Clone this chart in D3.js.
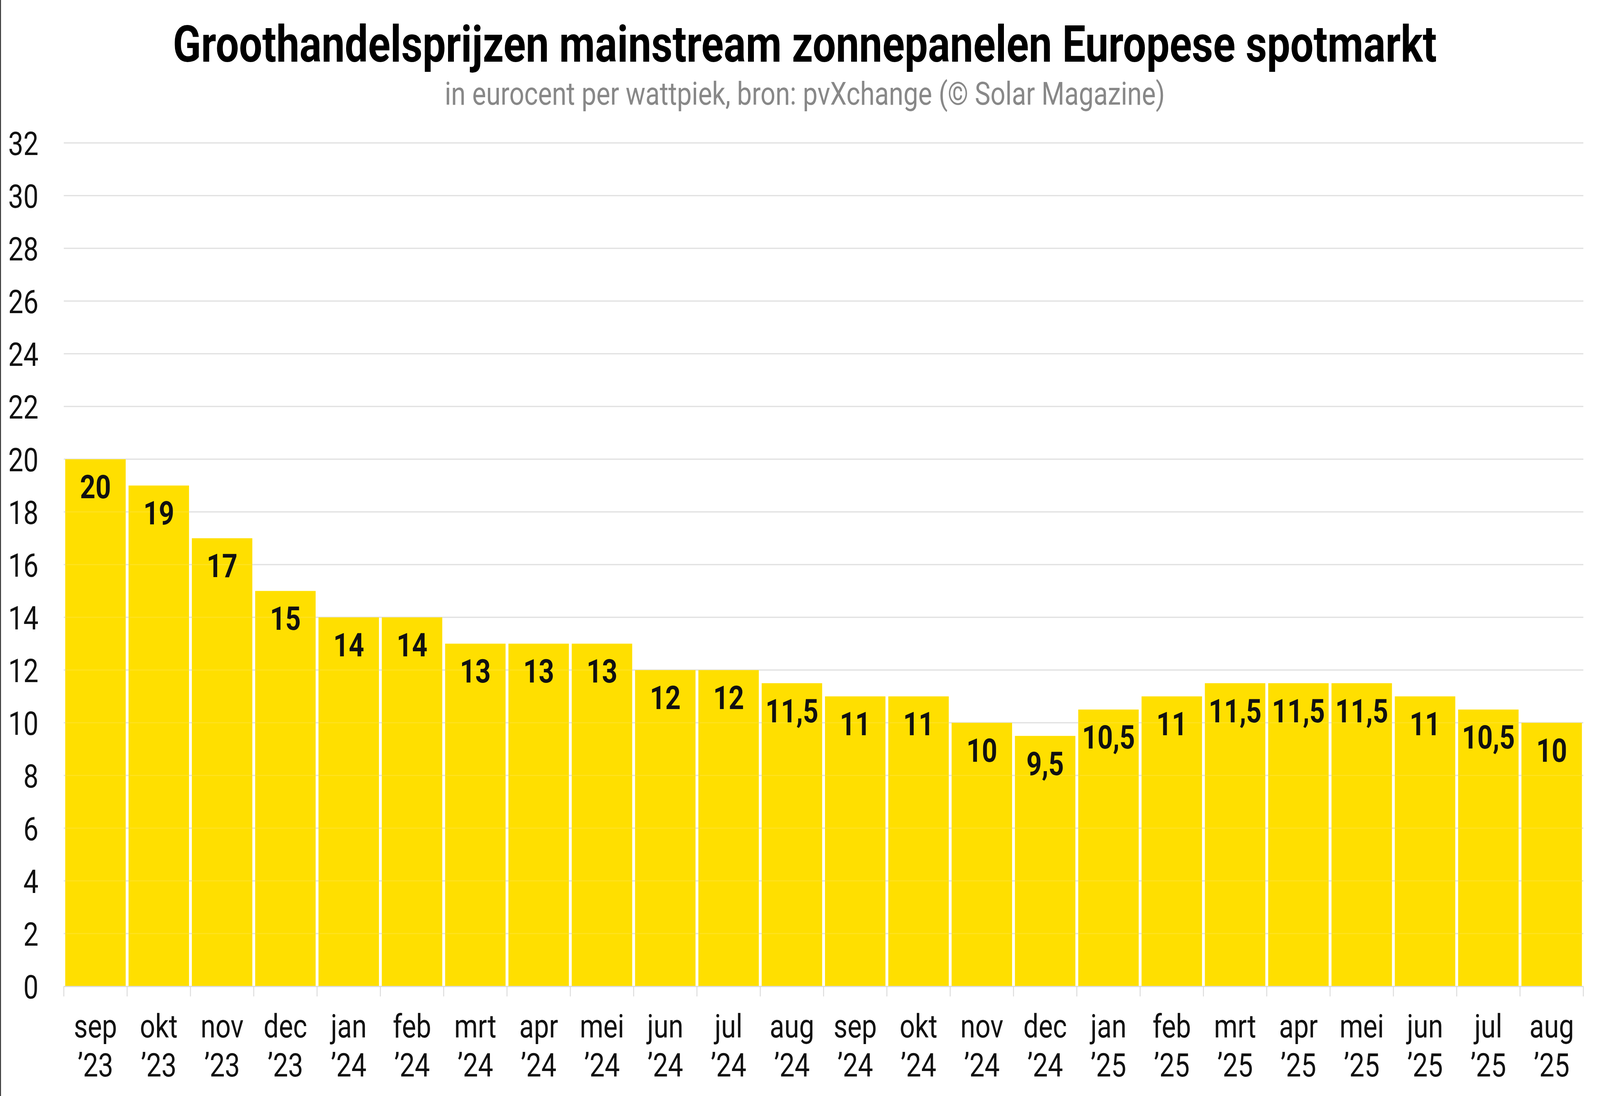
<!DOCTYPE html>
<html>
<head>
<meta charset="utf-8">
<script src="https://cdn.jsdelivr.net/npm/d3@7"></script>
<style>
  html, body { margin: 0; padding: 0; background: #fff; overflow: hidden; }
  svg { display: block; }
  text { font-family: Roboto, "Noto Sans", sans-serif; }
</style>
</head>
<body>
<svg id="chart"></svg>
<script>
const months = ["sep","okt","nov","dec","jan","feb","mrt","apr","mei","jun","jul","aug",
                "sep","okt","nov","dec","jan","feb","mrt","apr","mei","jun","jul","aug"];
const years = ["’23","’23","’23","’23","’24","’24","’24","’24","’24","’24","’24","’24",
               "’24","’24","’24","’24","’25","’25","’25","’25","’25","’25","’25","’25"];
const prices = [20,19,17,15,14,14,13,13,13,12,12,11.5,11,11,10,9.5,10.5,11,11.5,11.5,11.5,11,10.5,10];
const yTicks = [0,2,4,6,8,10,12,14,16,18,20,22,24,26,28,30,32];
const titleText = "Groothandelsprijzen mainstream zonnepanelen Europese spotmarkt";
const subtitleText = "in eurocent per wattpiek, bron: pvXchange (© Solar Magazine)";

const W = 4990, H = 2807;
const vw = window.innerWidth || W, vh = window.innerHeight || H;
const m = {left: 199, right: 4938, top: 366, bottom: 2526};
const svg = d3.select("#chart")
  .attr("width", vw).attr("height", vh)
  .attr("viewBox", `0 0 ${W} ${H}`)
  .attr("preserveAspectRatio", "none");

svg.append("rect").attr("x",0).attr("y",0).attr("width",W).attr("height",H).attr("fill","#fff");
svg.append("line").attr("x1",1.5).attr("x2",1.5).attr("y1",0).attr("y2",H)
  .attr("stroke","#333").attr("stroke-width",3);

const idx = d3.range(prices.length);
const x = d3.scaleBand().domain(idx).range([m.left, m.right]).paddingInner(0.045).paddingOuter(0.0225);
const xb = d3.scaleBand().domain(idx).range([m.left, m.right]).padding(0);
const y = d3.scaleLinear().domain([0, 32]).range([m.bottom, m.top]);

// gridlines
svg.append("g").selectAll("line").data(yTicks.filter(d => d > 0)).join("line")
  .attr("x1", m.left).attr("x2", m.right)
  .attr("y1", d => y(d)).attr("y2", d => y(d))
  .attr("stroke", "#dcdcdc").attr("stroke-width", 3);

// bars
svg.append("g").selectAll("rect").data(idx).join("rect")
  .attr("x", i => x(i)).attr("width", x.bandwidth())
  .attr("y", i => y(prices[i])).attr("height", i => y(0) - y(prices[i]))
  .attr("fill", "#FFDF00");

// faint gridlines through bars
svg.append("g").selectAll("line").data(yTicks.filter(d => d > 0)).join("line")
  .attr("x1", m.left).attr("x2", m.right)
  .attr("y1", d => y(d)).attr("y2", d => y(d))
  .attr("stroke", "#ffffff").attr("stroke-opacity", 0.12).attr("stroke-width", 3);

// x axis baseline and ticks
const xAxis = d3.axisBottom(xb).tickValues([]).tickSizeOuter(0);
const xg = svg.append("g").attr("transform", `translate(0,${y(0)})`).call(xAxis);
xg.select(".domain").attr("stroke", "#dcdcdc").attr("stroke-width", 3);
const bounds = d3.range(prices.length + 1).map(i => m.left + i * xb.step());
xg.selectAll("line.bt").data(bounds).join("line").attr("class","bt")
  .attr("x1", d => d).attr("x2", d => d).attr("y1", 0).attr("y2", 26)
  .attr("stroke", "#dcdcdc").attr("stroke-width", 3);

// x labels (two lines)
svg.append("g").selectAll("text").data(idx).join("text")
  .attr("text-anchor", "middle")
  .attr("font-size", 84).attr("fill", "#111")
  .each(function(i) {
    const t = d3.select(this);
    const cx = xb(i) + xb.bandwidth() / 2;
    t.append("tspan").attr("x", cx).attr("y", 2657).text(months[i]);
    t.append("tspan").attr("x", cx).attr("y", 2757).text(years[i]);
  });

// y axis labels
const yAxis = d3.axisLeft(y).tickValues(yTicks).tickSize(0).tickPadding(0);
const yg = svg.append("g").attr("transform", `translate(120,0)`).call(yAxis);
yg.select(".domain").remove();
yg.selectAll("text").attr("font-size", 84).attr("fill", "#111")
  .attr("font-family", "Roboto, sans-serif").attr("dy", "0.36em");

// value labels
const fmt = v => String(v).replace(".", ",");
svg.append("g").selectAll("text").data(idx).join("text")
  .attr("x", i => x(i) + x.bandwidth() / 2)
  .attr("y", i => y(prices[i]) + 100)
  .attr("text-anchor", "middle")
  .attr("font-size", 84).attr("font-weight", 700).attr("fill", "#111")
  .text(i => fmt(prices[i]));

// title & subtitle
svg.append("text").attr("x", 2510).attr("y", 158).attr("text-anchor", "middle")
  .attr("font-size", 129).attr("font-weight", 700).attr("fill", "#000").text(titleText);
svg.append("text").attr("x", 2510).attr("y", 268).attr("text-anchor", "middle")
  .attr("font-size", 82).attr("fill", "#888").text(subtitleText);
</script>
</body>
</html>
